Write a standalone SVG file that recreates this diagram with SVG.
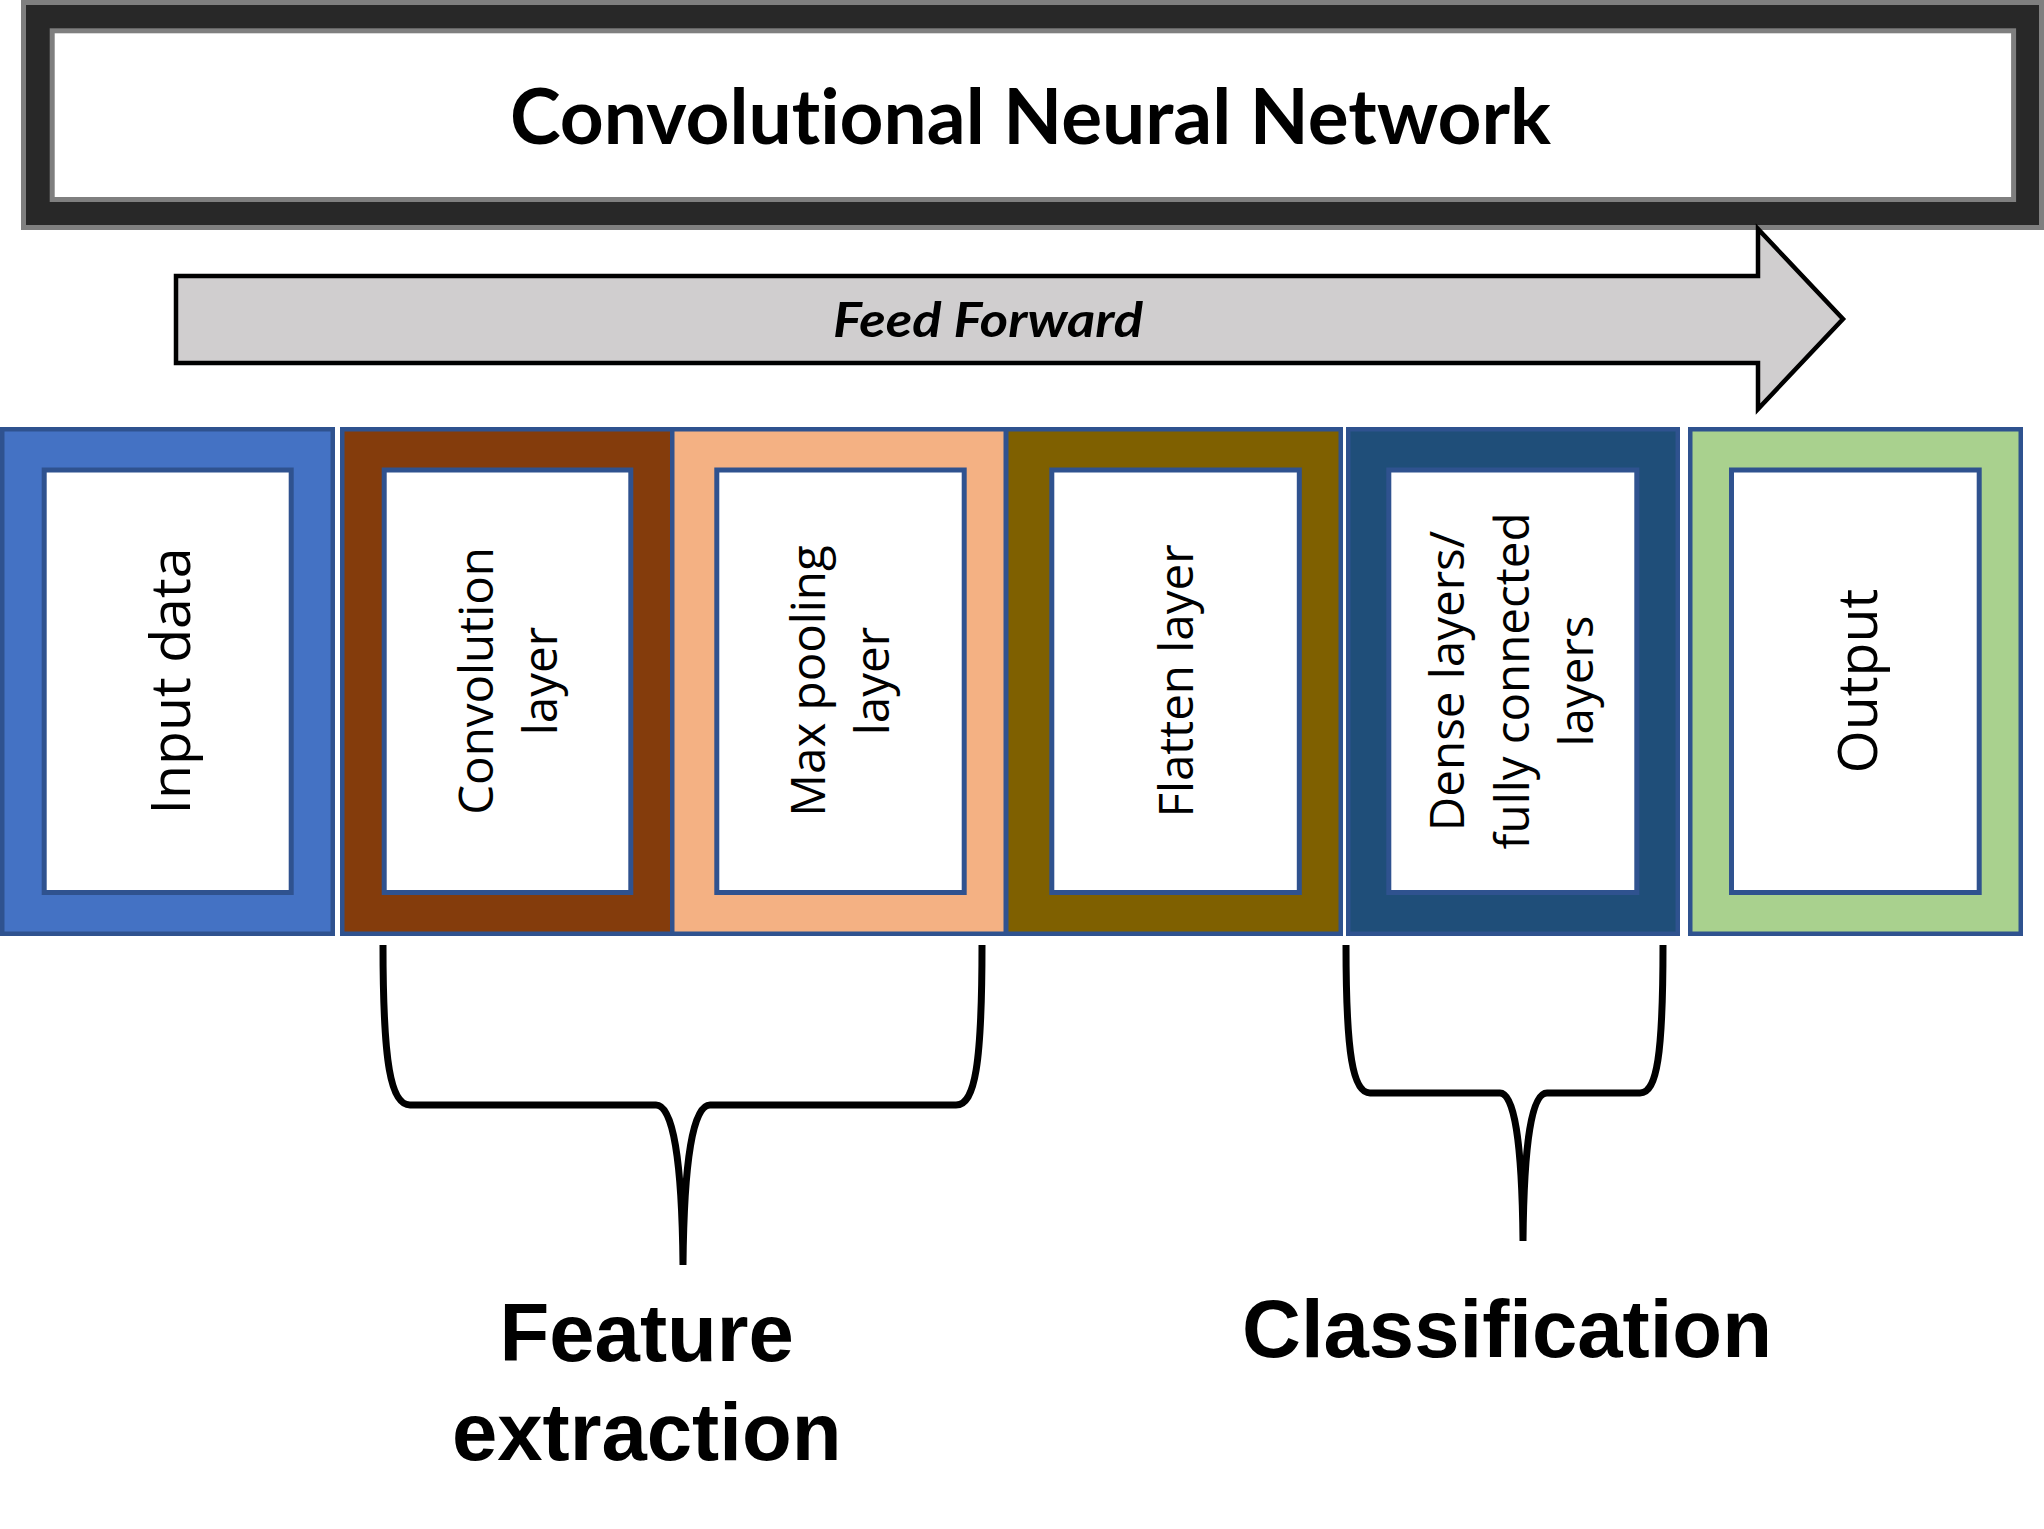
<svg xmlns="http://www.w3.org/2000/svg" width="2044" height="1529" viewBox="0 0 2044 1529">
<style>
text{font-variant-ligatures:none}
.outer{stroke:#2F528F;stroke-width:4.5}
.inner{fill:#ffffff;stroke:#2F528F;stroke-width:5}
.lbl{font-family:"Open Sans","DejaVu Sans",sans-serif;font-size:47.5px;fill:#000;text-anchor:middle}
.big{font-size:55.5px}
.brace{fill:none;stroke:#000;stroke-width:7}
.cap{font-family:"Liberation Sans",Arial,sans-serif;font-weight:bold;font-size:81.5px;fill:#000;text-anchor:middle}
</style>
<rect width="2044" height="1529" fill="#ffffff"/>
<g id="title">
<rect x="23.5" y="2.5" width="2018" height="225" fill="#282828" stroke="#7f7f7f" stroke-width="5"/>
<rect x="52.2" y="30.8" width="1961.4" height="168.7" fill="#ffffff" stroke="#7f7f7f" stroke-width="5"/>
<text x="1030.5" y="144" font-family="Lato,'Open Sans',sans-serif" font-weight="bold" font-size="76" text-anchor="middle" textLength="1041" lengthAdjust="spacingAndGlyphs">Convolutional Neural Network</text>
</g>
<g id="feed-forward">
<polygon points="176,276 1758,276 1758,229 1843,319 1758,409 1758,363 176,363" fill="#d0cecf" stroke="#000" stroke-width="4.5"/>
<text x="988" y="336.5" font-family="Lato,'Open Sans',sans-serif" font-weight="bold" font-style="italic" font-size="47.5" text-anchor="middle" textLength="310" lengthAdjust="spacingAndGlyphs">Feed Forward</text>
</g>
<g id="input-data">
<rect class="outer" x="2.25" y="429.25" width="330.5" height="504.5" fill="#4472C4"/>
<rect class="inner" x="44.2" y="470" width="247" height="422.5"/>
<g transform="translate(167.5,681) rotate(-90)"><text class="lbl big" x="0" y="22">Input data</text></g>
</g>
<g id="convolution-layer">
<rect class="outer" x="342.25" y="429.25" width="331.5" height="504.5" fill="#843C0C"/>
<rect class="inner" x="384.2" y="470" width="246.6" height="422.5"/>
<g transform="translate(507.5,681) rotate(-90)"><text class="lbl" x="0" y="-15">Convolution</text><text class="lbl" x="0" y="49">layer</text></g>
</g>
<g id="max-pooling-layer">
<rect class="outer" x="672.25" y="429.25" width="333.5" height="504.5" fill="#F4B183"/>
<rect class="inner" x="716.8" y="470" width="247.4" height="422.5"/>
<g transform="translate(840.5,681) rotate(-90)"><text class="lbl" x="0" y="-16">Max pooling</text><text class="lbl" x="0" y="48">layer</text></g>
</g>
<g id="flatten-layer">
<rect class="outer" x="1006.25" y="429.25" width="334.5" height="504.5" fill="#7F6000"/>
<rect class="inner" x="1051.8" y="470" width="247.5" height="422.5"/>
<g transform="translate(1175,681) rotate(-90)"><text class="lbl" x="0" y="18">Flatten layer</text></g>
</g>
<g id="dense-layers">
<rect class="outer" x="1348.25" y="429.25" width="329.5" height="504.5" fill="#1F4E79"/>
<rect class="inner" x="1388.8" y="470" width="248" height="422.5"/>
<g transform="translate(1512,681) rotate(-90)"><text class="lbl" x="0" y="-48">Dense layers/</text><text class="lbl" x="0" y="17">fully connected</text><text class="lbl" x="0" y="81">layers</text></g>
</g>
<g id="output">
<rect class="outer" x="1690.25" y="429.25" width="330.5" height="504.5" fill="#A9D18E"/>
<rect class="inner" x="1731.5" y="470" width="247.7" height="422.5"/>
<g transform="translate(1855.5,681) rotate(-90)"><text class="lbl big" x="0" y="21">Output</text></g>
</g>
<g id="connectors">
<path class="brace" d="M383,945 C383,1065 391,1105 410,1105 L656,1105 C673,1105 682,1160 683,1265 C684,1160 693,1105 710,1105 L956,1105 C975,1105 982,1065 982,945"/>
<path class="brace" d="M1346,945 C1346,1055 1353,1093 1370,1093 L1500,1093 C1514,1093 1522,1140 1523,1241 C1524,1140 1532,1093 1547,1093 L1640,1093 C1657,1093 1663,1055 1663,945"/>
</g>
<g id="feature-extraction">
<text class="cap" x="646.7" y="1361">Feature</text>
<text class="cap" x="646.7" y="1460">extraction</text>
</g>
<g id="classification">
<text class="cap" x="1507" y="1357">Classification</text>
</g>
</svg>
